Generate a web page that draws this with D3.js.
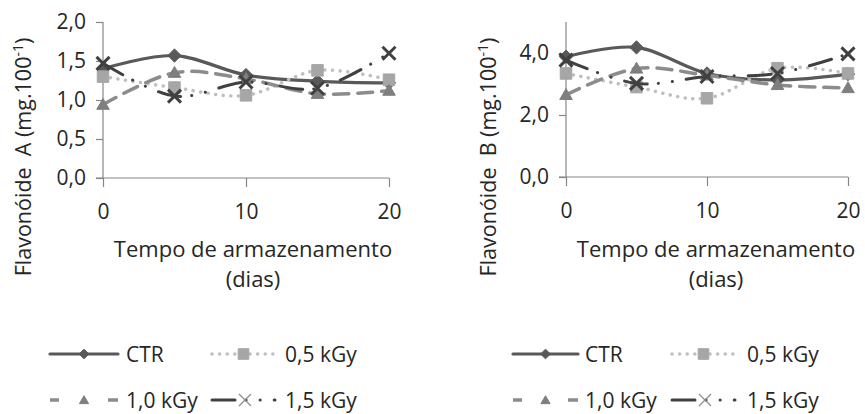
<!DOCTYPE html>
<html>
<head>
<meta charset="utf-8">
<script src="https://cdn.jsdelivr.net/npm/d3@7"></script>
<style>
  body { margin: 0; background: #fff; }
  svg { font-family: "Open Sans", sans-serif; }
</style>
</head>
<body>
<div class="chart"></div>
<script>
// data
var days = [0, 5, 10, 15, 20];
var seriesNames = ["CTR", "0,5 kGy", "1,0 kGy", "1,5 kGy"];

// Flavonoide A
var aCTR = [1.40, 1.57, 1.32, 1.24, 1.22];
var a05  = [1.30, 1.16, 1.06, 1.38, 1.26];
var a10  = [0.94, 1.35, 1.27, 1.08, 1.12];
var a15  = [1.47, 1.05, 1.23, 1.15, 1.60];

// Flavonoide B
var bCTR = [3.88, 4.18, 3.34, 3.13, 3.32];
var b05  = [3.34, 2.90, 2.54, 3.51, 3.34];
var b10  = [2.65, 3.50, 3.28, 2.97, 2.87];
var b15  = [3.77, 3.02, 3.24, 3.34, 3.97];

var xTicks = [0, 10, 20];
var aTicks = [0, 0.5, 1, 1.5, 2];
var bTicks = [0, 2, 4];

var w = 865, h = 414;
var txt = "#262626";
var fmt = function(d) { return d3.format(".1f")(d).replace(".", ","); };

var svg = d3.select(".chart").append("svg")
  .attr("width", w)
  .attr("height", h);

// line + marker styles per series
var styles = [
  { color: "#595959", width: 3.2, dash: null, cap: "round", marker: "diamond", mcolor: "#595959" },
  { color: "#bfbfbf", width: 3.5, dash: "0.1,7.5", cap: "round", marker: "square", mcolor: "#a6a6a6" },
  { color: "#8c8c8c", width: 3.5, dash: "15,9", cap: "round", marker: "triangle", mcolor: "#7f7f7f" },
  { color: "#404040", width: 3, dash: "23,11,0.1,14,0.1,14", cap: "round", marker: "x", mcolor: "#404040" }
];

function drawMarker(g, type, cx, cy, size, color, legend) {
  if (type == "x") {
    var s = size / 2;
    g.append("path")
      .attr("d", "M" + (cx - s) + "," + (cy - s) + "L" + (cx + s) + "," + (cy + s) +
                 "M" + (cx - s) + "," + (cy + s) + "L" + (cx + s) + "," + (cy - s))
      .attr("stroke", legend ? "#8c8c8c" : color)
      .attr("stroke-width", legend ? 1.2 : 3)
      .attr("fill", "none");
    return;
  }
  var sym = type == "diamond" ? d3.symbolDiamond2 : (type == "square" ? d3.symbolSquare2 : d3.symbolTriangle2);
  var area = size * size;
  if (type == "diamond") area = size * size * 0.5;
  if (type == "triangle") area = size * size * 0.5;
  g.append("path")
    .attr("d", d3.symbol().type(sym).size(area)())
    .attr("transform", "translate(" + cx + "," + (cy + (type == "triangle" ? 1 : 0)) + ")")
    .attr("fill", color)
    .attr("stroke", color)
    .attr("stroke-width", 1);
}

function panel(opt) {
  var g = svg.append("g");
  var x = d3.scaleLinear().domain([0, 20]).range(opt.xRange);
  var y = d3.scaleLinear().domain([0, opt.yMax]).range(opt.yRange);

  // y axis
  var yAxis = g.append("g")
    .attr("transform", "translate(" + opt.xRange[0] + ",0)")
    .call(d3.axisLeft(y).tickValues(opt.yTicks).tickSize(7).tickPadding(10).tickFormat(fmt));
  // x axis
  var xAxis = g.append("g")
    .attr("transform", "translate(0," + opt.yRange[0] + ")")
    .call(d3.axisBottom(x).tickValues(xTicks).tickSize(9).tickPadding(17));

  [yAxis, xAxis].forEach(function(a) {
    a.select(".domain").attr("stroke", "#868686").attr("stroke-width", 1.2);
    a.selectAll(".tick line").attr("stroke", "#868686").attr("stroke-width", 1.2);
    a.selectAll(".tick text").attr("fill", txt)
      .style("font-size", "21px").style("font-family", "'Open Sans', sans-serif");
  });
  yAxis.select(".domain").attr("d", "M0," + opt.yRange[0] + "V" + opt.yRange[1]);
  xAxis.select(".domain").attr("d", "M" + (opt.xRange[0] - 7) + ",0H" + opt.xRange[1]);

  // lines
  var line = d3.line()
    .x(function(d, i) { return x(days[i]); })
    .y(function(d) { return y(d); })
    .curve(d3.curveCardinal.tension(0));

  opt.data.forEach(function(vals, si) {
    var st = styles[si];
    g.append("path")
      .datum(vals)
      .attr("d", line)
      .attr("fill", "none")
      .attr("stroke", st.color)
      .attr("stroke-width", st.width)
      .attr("stroke-linecap", st.cap)
      .attr("stroke-dasharray", st.dash);
    vals.forEach(function(v, i) {
      var sz = st.marker == "square" ? 13 : (st.marker == "x" ? 13 : 15);
      drawMarker(g, st.marker, x(days[i]), y(v), sz, st.mcolor, false);
    });
  });

  // axis titles
  var yt = g.append("text")
    .attr("transform", "translate(" + opt.yTitleX + ",157) rotate(-90)")
    .attr("text-anchor", "middle")
    .attr("fill", txt)
    .style("font-size", "21.5px")
    .style("white-space", "pre");
  yt.append("tspan").text(opt.yTitle + " (mg.100");
  yt.append("tspan").attr("dy", -8).style("font-size", "14px").text("-1");
  yt.append("tspan").attr("dy", 8).text(")");

  var cx = opt.xTitleX;
  g.append("text").attr("x", cx).attr("y", 257).attr("text-anchor", "middle")
    .attr("fill", txt).style("font-size", "22px").text("Tempo de armazenamento");
  g.append("text").attr("x", cx).attr("y", 287).attr("text-anchor", "middle")
    .attr("fill", txt).style("font-size", "22px").text("(dias)");

  // legend
  var cols = opt.legendCols;
  var rows = [354, 400];
  seriesNames.forEach(function(name, si) {
    var st = styles[si];
    var c = cols[si % 2];
    var ry = rows[Math.floor(si / 2)];
    var len = c[1] - c[0];
    g.append("line")
      .attr("x1", c[0]).attr("x2", c[1])
      .attr("y1", ry).attr("y2", ry)
      .attr("stroke", st.color)
      .attr("stroke-width", st.width)
      .attr("stroke-linecap", si == 2 ? "butt" : st.cap)
      .attr("stroke-dasharray", si == 2 ? "9," + (len - 19) + ",10" : st.dash);
    var mx = (c[0] + c[1]) / 2;
    if (si == 3) mx = c[0] + 33;
    var msz = st.marker == "square" ? 12 : (st.marker == "x" ? 12 : 11);
    drawMarker(g, st.marker, mx, ry, msz, st.mcolor, true);
    g.append("text")
      .attr("x", c[2]).attr("y", ry + 8)
      .attr("fill", txt)
      .style("font-size", "21px")
      .text(name);
  });
}

panel({
  xRange: [103, 389], yRange: [178, 22], yMax: 2, yTicks: aTicks,
  data: [aCTR, a05, a10, a15],
  yTitle: "Flavonóide  A", yTitleX: 31, xTitleX: 253,
  legendCols: [[50, 118, 126], [212, 275, 285]]
});

panel({
  xRange: [566, 848], yRange: [177, 22], yMax: 5, yTicks: bTicks,
  data: [bCTR, b05, b10, b15],
  yTitle: "Flavonóide  B", yTitleX: 496, xTitleX: 716,
  legendCols: [[513, 578, 585], [672, 735, 747]]
});
</script>
</body>
</html>
